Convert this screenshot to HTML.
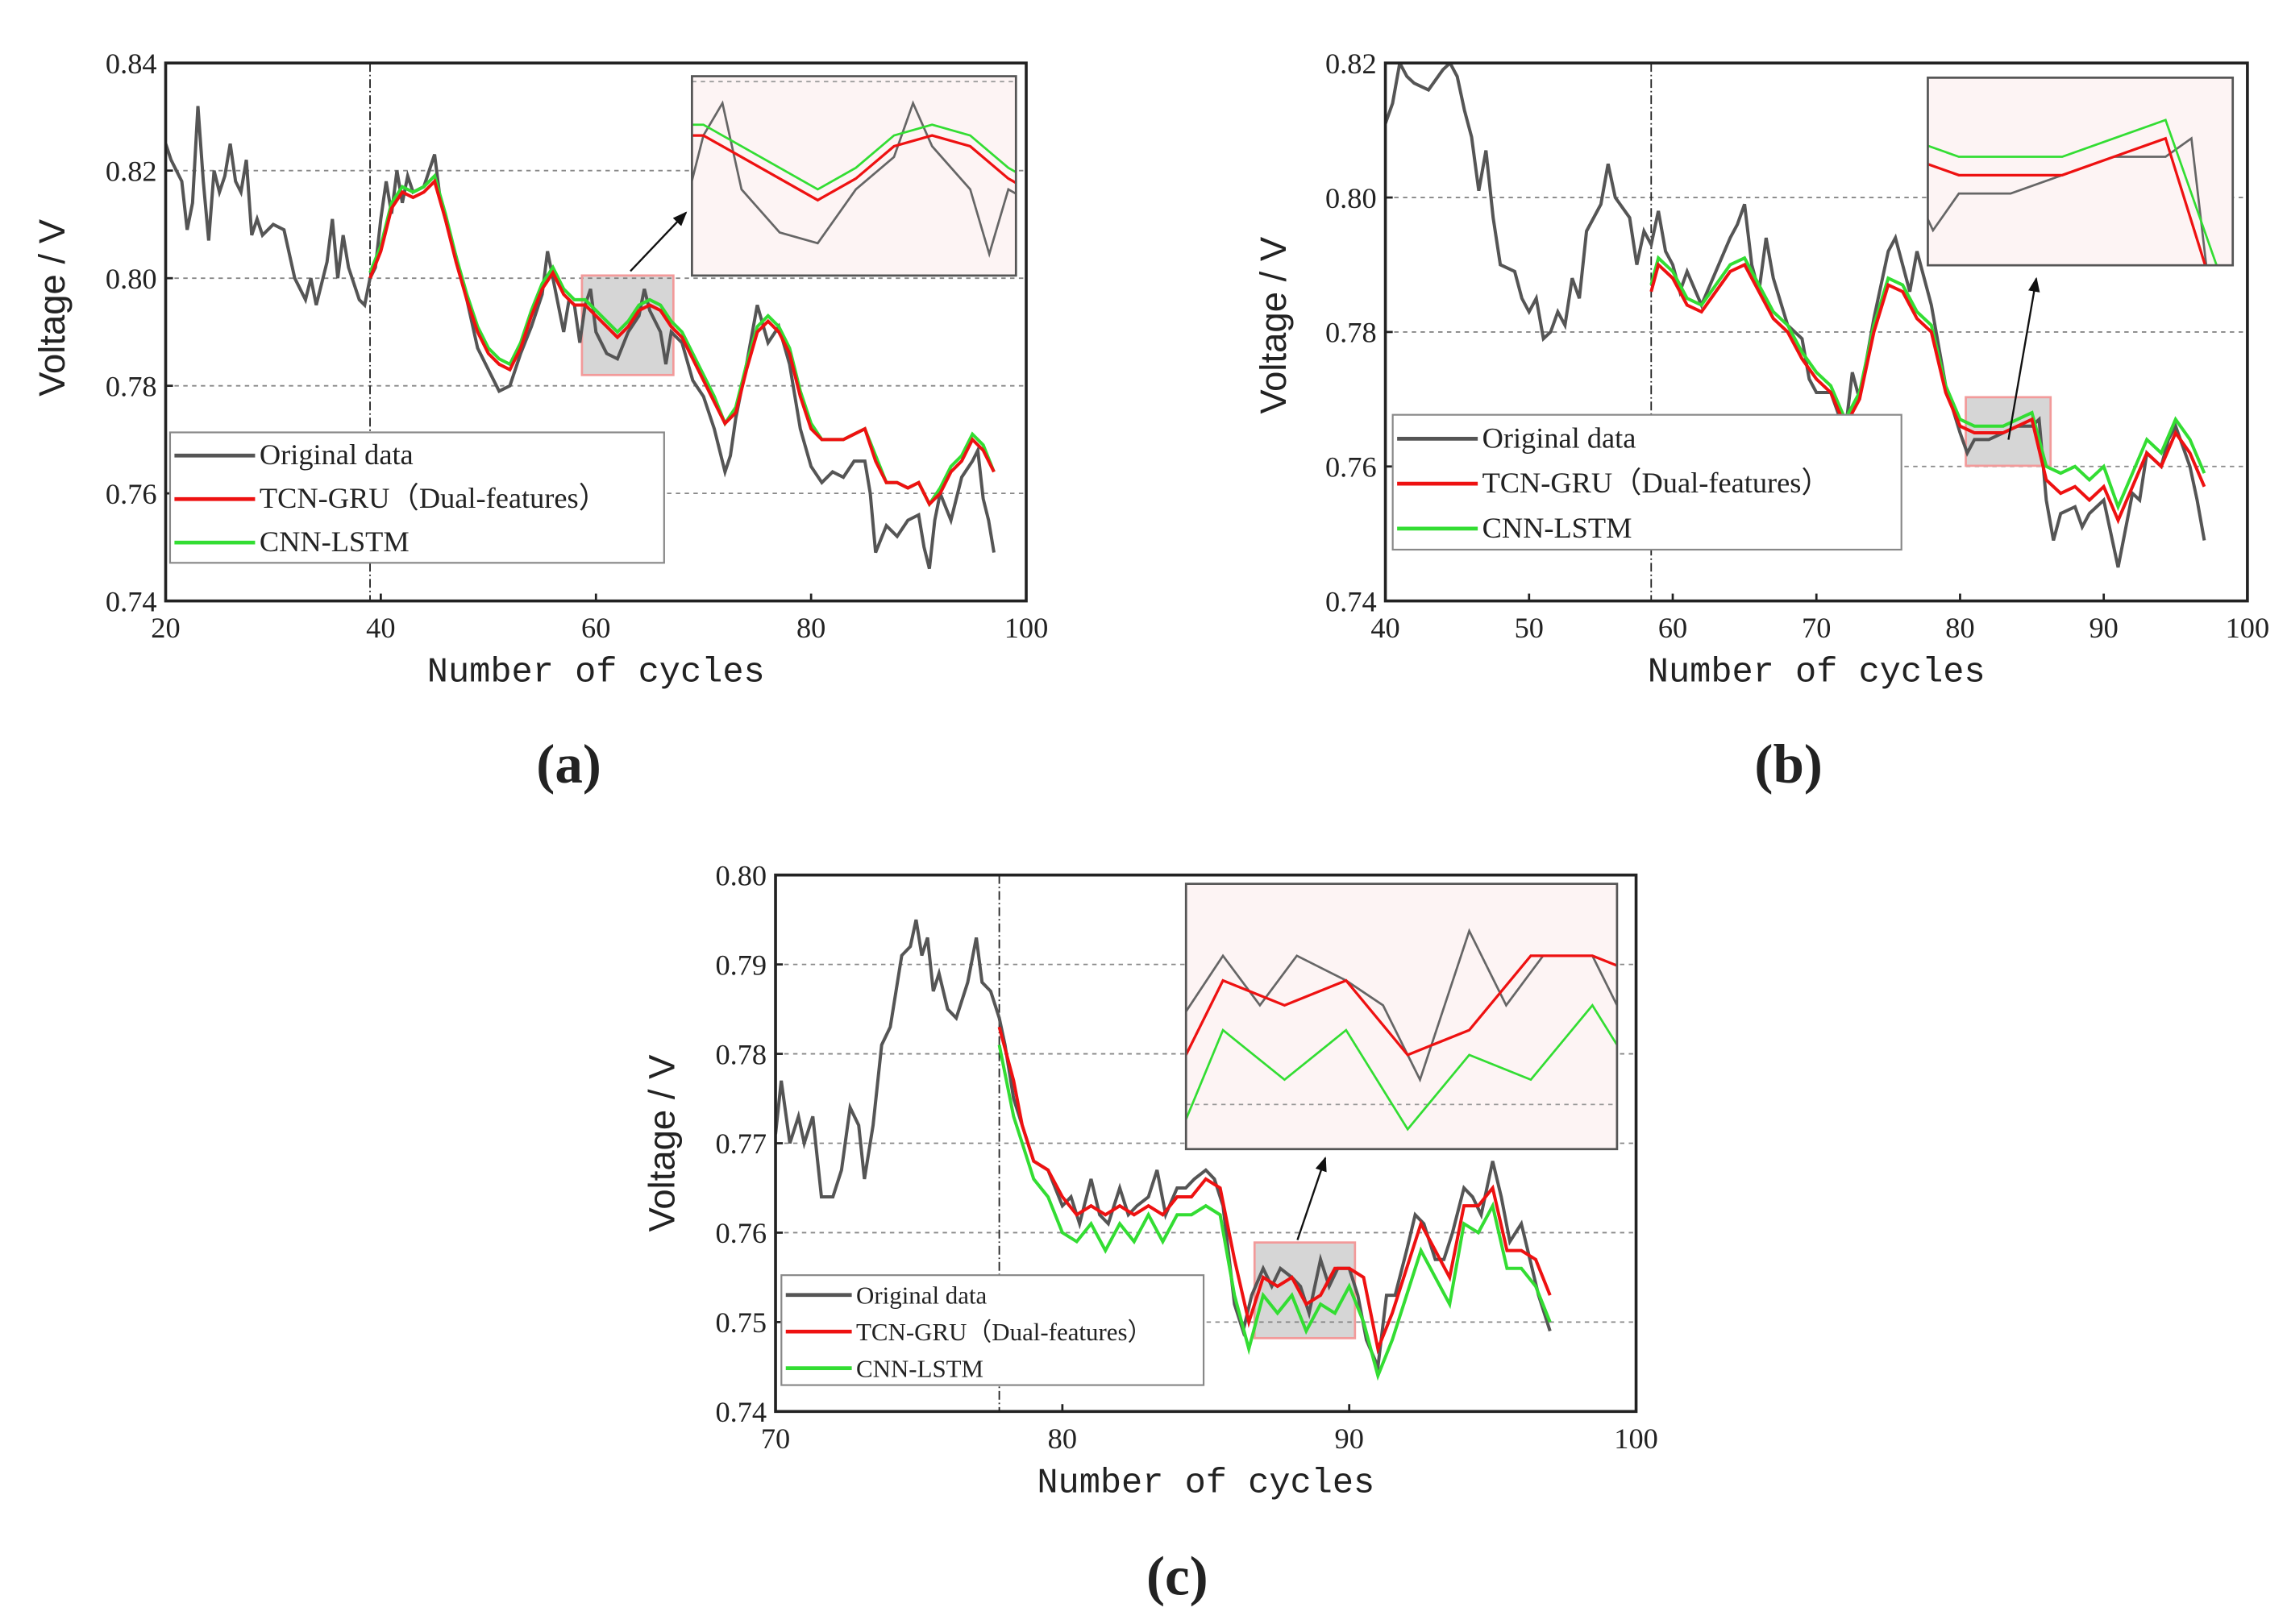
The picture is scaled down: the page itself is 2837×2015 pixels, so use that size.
<!DOCTYPE html>
<html><head><meta charset="utf-8">
<style>
html,body{margin:0;padding:0;background:#fff;}
svg{display:block;}
text{font-family:"Liberation Serif",serif;fill:#222;}
.mono{font-family:"Liberation Mono",monospace;}
.sans{font-family:"Liberation Sans",sans-serif;}
</style></head>
<body>
<svg id="fig" width="2837" height="2015" viewBox="0 0 1560 1108" xmlns="http://www.w3.org/2000/svg"></svg>
<script>
// ---------- Panel (a) data ----------
const aOrigX=[20,20.5,21,21.5,22,22.5,23,23.5,24,24.5,25,25.5,26,26.5,27,27.5,28,28.5,29,30,31,32,33,33.5,34,35,35.5,36,36.5,37,38,38.5,39,39.5,40,40.5,41,41.5,42,42.5,43,44,44.5,45,45.5,46,47,48,49,50,51,52,53,54,55,55.5,56,57,57.5,58,58.5,59,59.5,60,61,62,63,64,64.5,65,66,66.5,67,68,69,70,71,71.5,72,72.5,73,74,75,76,77,78,79,80,81,82,83,84,85,85.5,86,87,88,89,90,90.5,91,91.5,92,93,94,95,95.5,96,96.5,97];
const aOrigY=[0.825,0.822,0.820,0.818,0.809,0.814,0.832,0.818,0.807,0.820,0.816,0.819,0.825,0.818,0.816,0.822,0.808,0.811,0.808,0.810,0.809,0.800,0.796,0.800,0.795,0.803,0.811,0.800,0.808,0.802,0.796,0.795,0.800,0.802,0.811,0.818,0.812,0.820,0.814,0.819,0.816,0.817,0.820,0.823,0.815,0.811,0.804,0.796,0.787,0.783,0.779,0.780,0.786,0.791,0.797,0.805,0.800,0.790,0.796,0.795,0.788,0.795,0.798,0.790,0.786,0.785,0.790,0.793,0.798,0.794,0.790,0.784,0.790,0.788,0.781,0.778,0.772,0.768,0.764,0.767,0.774,0.784,0.795,0.788,0.791,0.784,0.772,0.765,0.762,0.764,0.763,0.766,0.766,0.760,0.749,0.754,0.752,0.755,0.756,0.750,0.746,0.755,0.760,0.755,0.763,0.766,0.768,0.759,0.755,0.749];
const aPredX=[39,40,41,42,43,44,45,46,47,48,49,50,51,52,53,54,55,56,57,58,59,60,61,62,63,64,65,66,67,68,69,70,71,72,73,74,75,76,77,78,79,80,81,82,83,84,85,86,87,88,89,90,91,92,93,94,95,96,97];
const aTcnY=[0.800,0.805,0.813,0.816,0.815,0.816,0.818,0.811,0.803,0.796,0.790,0.786,0.784,0.783,0.787,0.793,0.798,0.801,0.797,0.795,0.795,0.793,0.791,0.789,0.791,0.794,0.795,0.794,0.791,0.789,0.785,0.781,0.777,0.773,0.775,0.783,0.790,0.792,0.790,0.786,0.778,0.772,0.770,0.770,0.770,0.771,0.772,0.766,0.762,0.762,0.761,0.762,0.758,0.760,0.764,0.766,0.770,0.768,0.764];
const aCnnY=[0.801,0.806,0.814,0.817,0.816,0.817,0.819,0.812,0.804,0.797,0.791,0.787,0.785,0.784,0.788,0.794,0.799,0.802,0.798,0.796,0.796,0.794,0.792,0.790,0.792,0.795,0.796,0.795,0.792,0.790,0.786,0.782,0.778,0.773,0.776,0.784,0.791,0.793,0.791,0.787,0.779,0.773,0.770,0.770,0.770,0.771,0.772,0.767,0.762,0.762,0.761,0.762,0.758,0.761,0.765,0.767,0.771,0.769,0.764];
const aXTicks=[20,40,60,80,100];
const aYTicks=[0.74,0.76,0.78,0.80,0.82,0.84];
const aYLabels=["0.74","0.76","0.78","0.80","0.82","0.84"];

// ---------- Panel (b) data ----------
const bOrigX=[40,40.5,41,41.5,42,43,44,44.5,45,45.5,46,46.5,47,47.5,48,49,49.5,50,50.5,51,51.5,52,52.5,53,53.5,54,55,55.5,56,57,57.5,58,58.5,59,59.5,60,60.5,61,62,63,64,64.5,65,65.5,66,66.5,67,68,69,69.5,70,71,71.5,72,72.5,73,74,75,75.5,76,76.5,77,77.5,78,79,80,80.5,81,82,83,84,85,85.5,86,86.5,87,88,88.5,89,90,90.5,91,92,92.5,93,94,94.5,95,96,96.5,97];
const bOrigY=[0.811,0.814,0.820,0.818,0.817,0.816,0.819,0.820,0.818,0.813,0.809,0.801,0.807,0.797,0.790,0.789,0.785,0.783,0.785,0.779,0.780,0.783,0.781,0.788,0.785,0.795,0.799,0.805,0.800,0.797,0.790,0.795,0.793,0.798,0.792,0.790,0.786,0.789,0.784,0.789,0.794,0.796,0.799,0.790,0.786,0.794,0.788,0.781,0.779,0.773,0.771,0.771,0.768,0.765,0.774,0.770,0.782,0.792,0.794,0.790,0.786,0.792,0.788,0.784,0.772,0.765,0.762,0.764,0.764,0.765,0.766,0.766,0.767,0.755,0.749,0.753,0.754,0.751,0.753,0.755,0.750,0.745,0.756,0.755,0.762,0.760,0.764,0.766,0.760,0.755,0.749];
const bPredX=[58.5,59,60,61,62,63,64,65,66,67,68,69,70,71,72,73,74,75,76,77,78,79,80,81,82,83,84,85,86,87,88,89,90,91,92,93,94,95,96,97];
const bTcnY=[0.786,0.790,0.788,0.784,0.783,0.786,0.789,0.790,0.786,0.782,0.780,0.776,0.773,0.771,0.766,0.770,0.780,0.787,0.786,0.782,0.780,0.771,0.766,0.765,0.765,0.765,0.766,0.767,0.758,0.756,0.757,0.755,0.757,0.752,0.757,0.762,0.760,0.765,0.762,0.757];
const bCnnY=[0.787,0.791,0.789,0.785,0.784,0.787,0.790,0.791,0.787,0.783,0.781,0.777,0.774,0.772,0.767,0.771,0.781,0.788,0.787,0.783,0.781,0.772,0.767,0.766,0.766,0.766,0.767,0.768,0.760,0.759,0.760,0.758,0.760,0.754,0.759,0.764,0.762,0.767,0.764,0.759];
const bXTicks=[40,50,60,70,80,90,100];
const bYTicks=[0.74,0.76,0.78,0.80,0.82];
const bYLabels=["0.74","0.76","0.78","0.80","0.82"];

// ---------- Panel (c) data ----------
const cOrigX=[70,70.2,70.5,70.8,71,71.3,71.6,72,72.3,72.6,72.9,73.1,73.4,73.7,74,74.4,74.7,74.9,75.1,75.3,75.5,75.7,76,76.3,76.7,77,77.2,77.5,77.8,78,78.3,78.6,79,79.5,80,80.3,80.6,81,81.3,81.6,82,82.3,82.6,83,83.3,83.6,84,84.3,84.6,85,85.3,85.6,86,86.3,86.6,87,87.3,87.6,88,88.3,88.6,89,89.3,89.6,90,90.3,90.6,91,91.3,91.6,92,92.3,92.6,93,93.3,93.6,94,94.3,94.6,95,95.3,95.6,96,96.3,96.6,97];
const cOrigY=[0.771,0.777,0.770,0.773,0.770,0.773,0.764,0.764,0.767,0.774,0.772,0.766,0.772,0.781,0.783,0.791,0.792,0.795,0.791,0.793,0.787,0.789,0.785,0.784,0.788,0.793,0.788,0.787,0.784,0.781,0.775,0.772,0.768,0.767,0.763,0.764,0.761,0.766,0.762,0.761,0.765,0.762,0.763,0.764,0.767,0.762,0.765,0.765,0.766,0.767,0.766,0.763,0.752,0.749,0.753,0.756,0.754,0.756,0.755,0.754,0.751,0.757,0.754,0.756,0.756,0.753,0.748,0.745,0.753,0.753,0.758,0.762,0.761,0.757,0.757,0.760,0.765,0.764,0.762,0.768,0.764,0.759,0.761,0.757,0.753,0.749];
const cPredX=[77.8,78.3,78.6,79,79.5,80,80.5,81,81.5,82,82.5,83,83.5,84,84.5,85,85.5,86,86.5,87,87.5,88,88.5,89,89.5,90,90.5,91,91.5,92,92.5,93,93.5,94,94.5,95,95.5,96,96.5,97];
const cTcnY=[0.783,0.777,0.772,0.768,0.767,0.764,0.762,0.763,0.762,0.763,0.762,0.763,0.762,0.764,0.764,0.766,0.765,0.757,0.750,0.755,0.754,0.755,0.752,0.753,0.756,0.756,0.755,0.747,0.751,0.756,0.761,0.758,0.755,0.763,0.763,0.765,0.758,0.758,0.757,0.753];
const cCnnY=[0.781,0.773,0.770,0.766,0.764,0.760,0.759,0.761,0.758,0.761,0.759,0.762,0.759,0.762,0.762,0.763,0.762,0.753,0.747,0.753,0.751,0.753,0.749,0.752,0.751,0.754,0.750,0.744,0.748,0.753,0.758,0.755,0.752,0.761,0.760,0.763,0.756,0.756,0.754,0.750];
const cXTicks=[70,80,90,100];
const cYTicks=[0.74,0.75,0.76,0.77,0.78,0.79,0.80];
const cYLabels=["0.74","0.75","0.76","0.77","0.78","0.79","0.80"];

const NS="http://www.w3.org/2000/svg";
const svg=document.getElementById('fig');
function mk(tag,attrs,parent){const e=document.createElementNS(NS,tag);for(const k in attrs)e.setAttribute(k,attrs[k]);(parent||svg).appendChild(e);return e;}
function pts(xs,ys,sx,sy){return xs.map((x,i)=>sx(x).toFixed(2)+","+sy(ys[i]).toFixed(2)).join(" ");}

function panel(id,L,xd,yd,xt,yt,yl,origX,origY,pX,tcn,cnn,split,box,inset,leg,ylab,tag){
  const g=mk('g',{});
  
  
  const sx=v=>L.x0+(v-xd[0])/(xd[1]-xd[0])*(L.x1-L.x0);
  const sy=v=>L.y1-(v-yd[0])/(yd[1]-yd[0])*(L.y1-L.y0);
  yt.forEach((v,i)=>{
    if(i>0&&i<yt.length-1){const gl=mk('line',{x1:L.x0,x2:L.x1,y1:sy(v),y2:sy(v),stroke:'#888','stroke-width':1,'stroke-dasharray':'3,3'},g);
    }
    const t=mk('text',{x:L.x0-6,y:sy(v)+7,'text-anchor':'end','font-size':20},g);t.textContent=yl[i];
    
    mk('line',{x1:L.x0,x2:L.x0+5,y1:sy(v),y2:sy(v),stroke:'#222','stroke-width':1.5},g);
  });
  xt.forEach(v=>{
    const t=mk('text',{x:sx(v),y:L.y1+25,'text-anchor':'middle','font-size':20},g);t.textContent=v;
    
    mk('line',{x1:sx(v),x2:sx(v),y1:L.y1,y2:L.y1-5,stroke:'#222','stroke-width':1.5},g);
  });
  const sl=mk('line',{x1:sx(split),x2:sx(split),y1:L.y0,y2:L.y1,stroke:'#222','stroke-width':1,'stroke-dasharray':'6,2,1,2'},g);
  
  const clipId='clip'+id;
  const cp=mk('clipPath',{id:clipId},g);mk('rect',{x:L.x0,y:L.y0,width:L.x1-L.x0,height:L.y1-L.y0},cp);
  const bx=mk('rect',{x:sx(box[0]),y:sy(box[3]),width:sx(box[1])-sx(box[0]),height:sy(box[2])-sy(box[3]),fill:'rgba(120,120,120,0.3)',stroke:'#f29a9a','stroke-width':1.5},g);
  
  const so=mk('polyline',{points:pts(origX,origY,sx,sy),fill:'none',stroke:'#555','stroke-width':2.2,'clip-path':'url(#'+clipId+')'},g);
  
  const sc=mk('polyline',{points:pts(pX,cnn,sx,sy),fill:'none',stroke:'#33dd33','stroke-width':2.2,'clip-path':'url(#'+clipId+')'},g);
  
  const st=mk('polyline',{points:pts(pX,tcn,sx,sy),fill:'none',stroke:'#ee1111','stroke-width':2.2,'clip-path':'url(#'+clipId+')'},g);
  
  const fr=mk('rect',{x:L.x0,y:L.y0,width:L.x1-L.x0,height:L.y1-L.y0,fill:'none',stroke:'#222','stroke-width':2},g);
  
  const I=inset;
  const ig=mk('g',{},g);
  
  mk('rect',{x:I.x0,y:I.y0,width:I.x1-I.x0,height:I.y1-I.y0,fill:'#fdf4f4'},ig);
  const ix=v=>I.x0+(v-box[0])/(box[1]-box[0])*(I.x1-I.x0);
  const iy=v=>I.y1-(v-box[2])/(box[3]-box[2])*(I.y1-I.y0);
  const icp=mk('clipPath',{id:clipId+'i'},ig);mk('rect',{x:I.x0,y:I.y0,width:I.x1-I.x0,height:I.y1-I.y0},icp);
  yt.forEach(v=>{const yy=iy(v);if(yy>I.y0+1&&yy<I.y1-1)mk('line',{x1:I.x0,x2:I.x1,y1:yy,y2:yy,stroke:'#999','stroke-width':1,'stroke-dasharray':'3,3'},ig);});
  const io=mk('polyline',{points:pts(origX,origY,ix,iy),fill:'none',stroke:'#666','stroke-width':1.5,'clip-path':'url(#'+clipId+'i)'},ig);
  
  const ic=mk('polyline',{points:pts(pX,cnn,ix,iy),fill:'none',stroke:'#33dd33','stroke-width':1.5,'clip-path':'url(#'+clipId+'i)'},ig);
  
  const it=mk('polyline',{points:pts(pX,tcn,ix,iy),fill:'none',stroke:'#ee1111','stroke-width':1.8,'clip-path':'url(#'+clipId+'i)'},ig);
  
  mk('rect',{x:I.x0,y:I.y0,width:I.x1-I.x0,height:I.y1-I.y0,fill:'none',stroke:'#555','stroke-width':1.5},ig);
  const ar=mk('line',{x1:I.ax0,y1:I.ay0,x2:I.ax1,y2:I.ay1,stroke:'#111','stroke-width':1.3,'marker-end':'url(#arrowhead)'},g);
  
  const lg=mk('g',{},g);
  
  mk('rect',{x:leg.x,y:leg.y,width:leg.w,height:leg.h,fill:'#fff',stroke:'#888','stroke-width':1.2},lg);
  const names=['Original data','TCN-GRU（Dual-features）','CNN-LSTM'];
  const cols=['#555','#ee1111','#33dd33'];
  names.forEach((n,i)=>{
    const yy=leg.y+leg.h*(i+0.5)/3+1;
    mk('line',{x1:leg.x+3,x2:leg.x+leg.lw,y1:yy,y2:yy,stroke:cols[i],'stroke-width':2.6},lg);
    const t=mk('text',{x:leg.x+leg.lw+3,y:yy+6,'font-size':leg.fs,'font-family':'"Liberation Serif","Noto Serif CJK SC",serif'},lg);t.textContent=n;
    
  });
  const xtl=mk('text',{x:(L.x0+L.x1)/2,y:L.y1+55,'text-anchor':'middle','font-size':24,class:'mono'},g);xtl.textContent='Number of cycles';
  
  const ytl=mk('text',{x:ylab[0],y:ylab[1],'text-anchor':'middle','font-size':25,class:'sans',transform:'rotate(-90 '+ylab[0]+' '+ylab[1]+')'},g);ytl.textContent='Voltage / V';
  
  const pl=mk('text',{x:tag[0],y:tag[1],'text-anchor':'middle','font-size':38,'font-weight':'bold'},g);pl.textContent='('+id+')';
  
}
const defs=mk('defs',{});
const mkr=mk('marker',{id:'arrowhead',markerWidth:10,markerHeight:8,refX:9,refY:4,orient:'auto',markerUnits:'userSpaceOnUse'},defs);
mk('path',{d:'M0,0 L10,4 L0,8 Z',fill:'#111'},mkr);

panel('a',{x0:113,x1:700,y0:43,y1:410},[20,100],[0.74,0.84],aXTicks,aYTicks,aYLabels,aOrigX,aOrigY,aPredX,aTcnY,aCnnY,39,[58.7,67.2,0.782,0.8005],
  {x0:472,x1:693,y0:52,y1:188,ax0:430,ay0:185,ax1:468,ay1:145},{x:116,y:295,w:337,h:89,lw:58,fs:20},[44,210],[388,534]);
panel('b',{x0:945,x1:1533,y0:43,y1:410},[40,100],[0.74,0.82],bXTicks,bYTicks,bYLabels,bOrigX,bOrigY,bPredX,bTcnY,bCnnY,58.5,[80.4,86.3,0.7601,0.7703],
  {x0:1315,x1:1523,y0:53,y1:181,ax0:1370,ay0:300,ax1:1389,ay1:190},{x:950,y:283,w:347,h:92,lw:58,fs:20},[877,222],[1220,534]);
panel('c',{x0:529,x1:1116,y0:597,y1:963},[70,100],[0.74,0.80],cXTicks,cYTicks,cYLabels,cOrigX,cOrigY,cPredX,cTcnY,cCnnY,77.8,[86.7,90.2,0.7482,0.7589],
  {x0:809,x1:1103,y0:603,y1:784,ax0:885,ay0:846,ax1:904,ay1:790},{x:533,y:870,w:288,h:75,lw:48,fs:17},[460,780],[803,1088]);
</script>
</body></html>
